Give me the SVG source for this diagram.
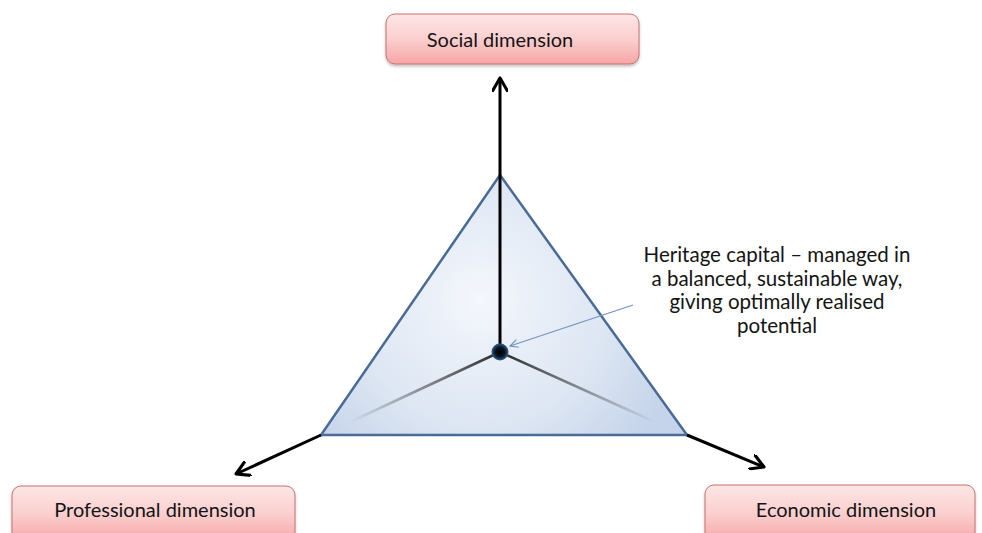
<svg xmlns="http://www.w3.org/2000/svg" width="982" height="533" viewBox="0 0 982 533">
  <defs>
    <linearGradient id="boxFill" x1="0" y1="0" x2="0" y2="1">
      <stop offset="0" stop-color="#fde6e6"/>
      <stop offset="0.5" stop-color="#fbcfcf"/>
      <stop offset="1" stop-color="#f6a5a5"/>
    </linearGradient>
    <radialGradient id="triFill" cx="480" cy="300" r="210" gradientUnits="userSpaceOnUse">
      <stop offset="0" stop-color="#f4f7fc"/>
      <stop offset="0.6" stop-color="#dde6f3"/>
      <stop offset="1" stop-color="#c5d4ea"/>
    </radialGradient>
    <linearGradient id="spokeL" x1="500" y1="352" x2="350" y2="422" gradientUnits="userSpaceOnUse">
      <stop offset="0" stop-color="#2a2a2a"/>
      <stop offset="1" stop-color="#2a2a2a" stop-opacity="0"/>
    </linearGradient>
    <linearGradient id="spokeR" x1="500" y1="352" x2="655" y2="422" gradientUnits="userSpaceOnUse">
      <stop offset="0" stop-color="#2a2a2a"/>
      <stop offset="1" stop-color="#2a2a2a" stop-opacity="0"/>
    </linearGradient>
    <radialGradient id="hub" cx="0.5" cy="0.5" r="0.5">
      <stop offset="0" stop-color="#000000"/>
      <stop offset="0.55" stop-color="#0a1220"/>
      <stop offset="1" stop-color="#2f5d8f"/>
    </radialGradient>
    <filter id="shadow" x="-5%" y="-20%" width="110%" height="150%">
      <feDropShadow dx="0" dy="2" stdDeviation="1.5" flood-color="#000" flood-opacity="0.25"/>
    </filter>
    <marker id="chevron" viewBox="0 0 12 12" refX="10" refY="6" markerWidth="5.5" markerHeight="5.5" orient="auto" markerUnits="strokeWidth">
      <path d="M0.5,0.5 L10,6 L0.5,11.5" fill="none" stroke="#000" stroke-width="2.3" stroke-linecap="round" stroke-linejoin="round"/>
    </marker>
    <marker id="thinHead" viewBox="0 0 10 10" refX="9" refY="5" markerWidth="10" markerHeight="10" orient="auto" markerUnits="userSpaceOnUse">
      <path d="M1,1 L9,5 L1,9" fill="none" stroke="#6f93c2" stroke-width="1.2"/>
    </marker>
  </defs>
  <style>
    .box { fill: url(#boxFill); stroke: #c7706e; stroke-width: 1; filter: url(#shadow); }
    .label { font-family: "Lato", "Open Sans", "Liberation Sans", sans-serif; font-size: 20px; fill: #141414; text-anchor: middle; }
    .note { font-size: 20.5px; }
    .axis { stroke: #000; stroke-width: 3; fill: none; }
  </style>

  <rect width="982" height="533" fill="#ffffff"/>

  <!-- triangle body -->
  <g id="triangle">
    <polygon points="500,175 321,435 687,435" fill="url(#triFill)" stroke="#4a6b96" stroke-width="2.5" stroke-linejoin="miter"/>
  </g>

  <!-- axes and pointer -->
  <g id="connectors">
    <line x1="500" y1="352" x2="350" y2="422" stroke="url(#spokeL)" stroke-width="2.5"/>
    <line x1="500" y1="352" x2="655" y2="422" stroke="url(#spokeR)" stroke-width="2.5"/>
    <line class="axis" x1="500" y1="352" x2="500" y2="78" marker-end="url(#chevron)"/>
    <line class="axis" x1="321" y1="435" x2="236" y2="474" marker-end="url(#chevron)"/>
    <line class="axis" x1="687" y1="435" x2="764" y2="467" marker-end="url(#chevron)"/>
    <line x1="633" y1="305" x2="510" y2="346" stroke="#6f93c2" stroke-width="1.2" marker-end="url(#thinHead)"/>
  </g>

  <g id="centre">
    <circle cx="500" cy="352" r="8.5" fill="url(#hub)"/>
  </g>

  <g id="social">
    <rect class="box" x="386" y="14" width="253" height="50" rx="9"/>
    <text class="label" x="500" y="47">Social dimension</text>
  </g>

  <g id="professional">
    <rect class="box" x="12" y="486" width="283" height="56" rx="9"/>
    <text class="label" x="155" y="517">Professional dimension</text>
  </g>

  <g id="economic">
    <rect class="box" x="705" y="485" width="270" height="57" rx="9"/>
    <text class="label" x="846" y="517">Economic dimension</text>
  </g>

  <g id="heritage">
    <text class="label note" x="777" y="262">Heritage capital – managed in</text>
    <text class="label note" x="777" y="286">a balanced, sustainable way,</text>
    <text class="label note" x="777" y="309">giving optimally realised</text>
    <text class="label note" x="777" y="333">potential</text>
  </g>
</svg>
